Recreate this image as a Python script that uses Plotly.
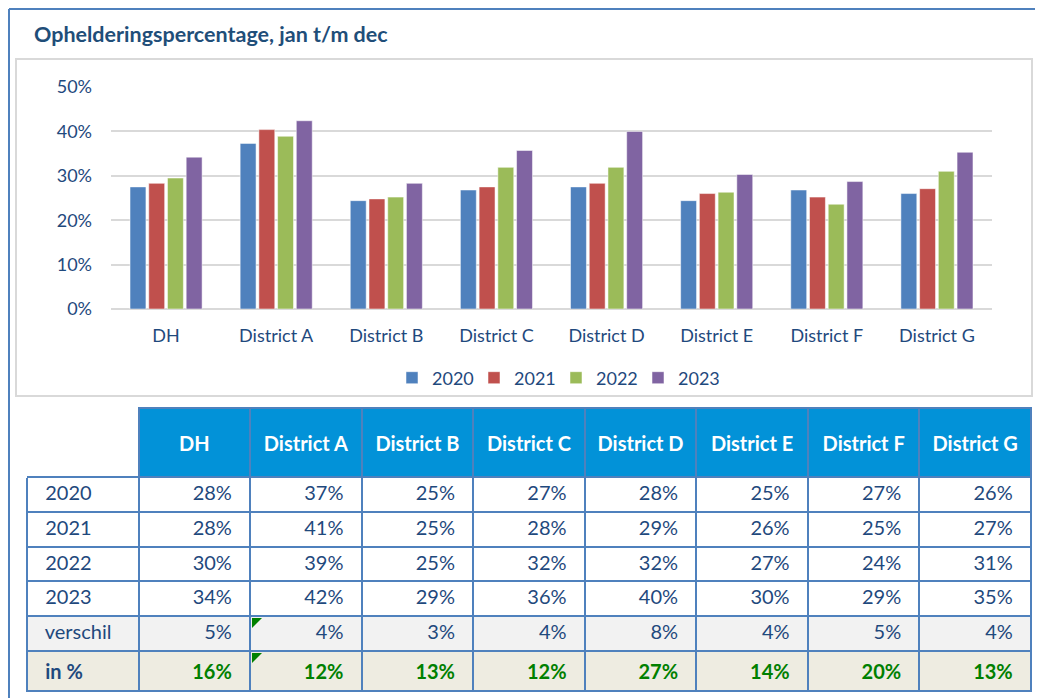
import plotly.graph_objects as go

# figure is placed by the page 8px in from the top-left corner
W, H = 1035, 690
OFF = 8

districts = ["DH", "District A", "District B", "District C", "District D",
             "District E", "District F", "District G"]
years = ["2020", "2021", "2022", "2023"]

# bar heights (percent)
bar_2020 = [27.5, 37.3, 24.4, 26.8, 27.5, 24.4, 26.8, 26.0]
bar_2021 = [28.3, 40.4, 24.8, 27.5, 28.3, 26.0, 25.2, 27.1]
bar_2022 = [29.5, 38.9, 25.2, 31.9, 31.9, 26.3, 23.6, 31.0]
bar_2023 = [34.2, 42.4, 28.3, 35.7, 40.0, 30.3, 28.7, 35.3]

# table values (rounded percent)
tab_2020 = [28, 37, 25, 27, 28, 25, 27, 26]
tab_2021 = [28, 41, 25, 28, 29, 26, 25, 27]
tab_2022 = [30, 39, 25, 32, 32, 27, 24, 31]
tab_2023 = [34, 42, 29, 36, 40, 30, 29, 35]
verschil = [5, 4, 3, 4, 8, 4, 5, 4]
in_pct = [16, 12, 13, 12, 27, 14, 20, 13]
row_labels = ["2020", "2021", "2022", "2023", "verschil", "<b>in %</b>"]

colors = ["#4F81BD", "#C0504D", "#9BBB59", "#8064A2"]
NAVY = "#1F497D"
GREEN = "#008000"
BORDER = "#4F81BD"
FONT = "Lato"


def px(x):
    return (x - OFF) / W


def py(y):
    return 1 - (y - OFF) / H


fig = go.Figure()
for yr, vals, c in zip(years, [bar_2020, bar_2021, bar_2022, bar_2023], colors):
    fig.add_trace(go.Bar(x=districts, y=vals, name=yr, marker_color=c,
                         marker_line=dict(color="rgba(255,255,255,0.5)", width=1),
                         hoverinfo="skip"))

# table
pad = "\u00a0\u00a0"
cols = [[pad + l for l in row_labels]]
for i in range(len(districts)):
    col = [f"{v[i]}%" + pad for v in (tab_2020, tab_2021, tab_2022, tab_2023, verschil)]
    col.append(f"<b>{in_pct[i]}%</b>" + pad)
    cols.append(col)

row_fill = ["white"] * 4 + ["#F2F2F2", "#EEECE1"]
font_cols = [[NAVY] * 6] + [[NAVY] * 5 + [GREEN] for _ in districts]

# small base font for the header -> short spacer line, real label in a 20px span
head_vals = [""] + [f"\u00a0<br><span style='font-size:20px'><b>{d}</b></span>" for d in districts]

fig.add_trace(go.Table(
    domain=dict(x=[px(27), px(1031)], y=[py(692), py(408)]),
    columnwidth=[1] * 9,
    header=dict(values=head_vals,
                fill_color=["white"] + ["#0292D8"] * 8,
                line=dict(color=["white"] + [BORDER] * 8, width=2),
                font=dict(color="white", size=15, family=FONT),
                align="center", height=69),
    cells=dict(values=cols,
               fill_color=[row_fill] * 9,
               line=dict(color=BORDER, width=2),
               font=dict(color=font_cols, size=20, family=FONT),
               align=["left"] + ["right"] * 8, height=34.8),
))

shapes = [
    # outer frame
    dict(type="line", xref="paper", yref="paper", x0=px(9), x1=1, y0=py(9), y1=py(9),
         line=dict(color=BORDER, width=2)),
    dict(type="line", xref="paper", yref="paper", x0=px(9), x1=px(9), y0=py(9), y1=0,
         line=dict(color=BORDER, width=2)),
    # chart area border
    dict(type="rect", xref="paper", yref="paper", x0=px(16), x1=px(1032), y0=py(396), y1=py(59),
         line=dict(color="#D9D9D9", width=2), layer="below"),
    # top border of the row-label column
    dict(type="line", xref="paper", yref="paper", x0=px(27), x1=px(139), y0=py(477), y1=py(477),
         line=dict(color=BORDER, width=2)),
]
# small green error markers in table cells
for ytop in (618, 653):
    shapes.append(dict(type="path", xref="paper", yref="paper",
                       path=f"M {px(252)} {py(ytop)} L {px(262)} {py(ytop)} L {px(252)} {py(ytop + 10)} Z",
                       fillcolor="#008000", line=dict(width=0)))

fig.update_layout(
    width=W, height=H,
    margin=dict(l=0, r=0, t=0, b=0, autoexpand=False),
    paper_bgcolor="white", plot_bgcolor="white",
    font=dict(family=FONT, color=NAVY, size=18),
    barmode="group", bargap=0.32, bargroupgap=0.15,
    showlegend=True,
    legend=dict(orientation="h", x=px(556), xanchor="center", y=py(378), yanchor="middle",
                font=dict(size=18, color=NAVY), itemwidth=30, entrywidth=37,
                bgcolor="rgba(0,0,0,0)"),
    xaxis=dict(domain=[px(111), px(992)], anchor="y", showgrid=False, showline=False,
               ticks="", ticklabelstandoff=14, automargin=False,
               tickfont=dict(size=18, color=NAVY)),
    yaxis=dict(domain=[py(309), py(87)], range=[0, 50], dtick=10, ticksuffix="%",
               showgrid=True, gridcolor="#D9D9D9", gridwidth=2,
               zeroline=True, zerolinecolor="#D9D9D9", zerolinewidth=2,
               showline=False, ticks="", ticklabelstandoff=18, automargin=False,
               tickfont=dict(size=18, color=NAVY)),
    shapes=shapes,
    annotations=[dict(text="<b>Ophelderingspercentage, jan t/m dec</b>", xref="paper", yref="paper",
                      x=px(32), y=py(34), xanchor="left", yanchor="middle", showarrow=False,
                      font=dict(size=21.5, color="#1F4E79", family=FONT))],
)

fig.write_html("out.html")
